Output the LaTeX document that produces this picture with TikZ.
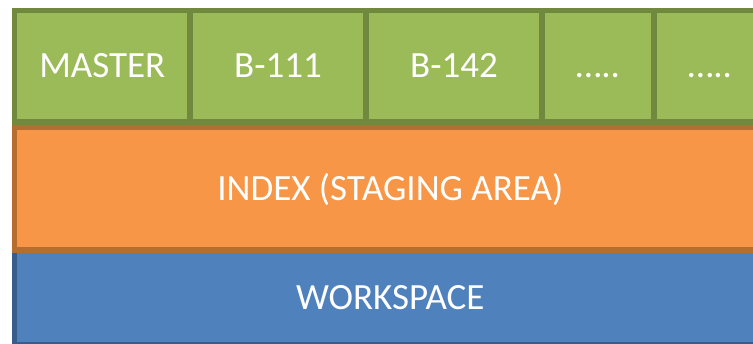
\documentclass[tikz,border=0pt]{standalone}
\usepackage{fontspec}
\setmainfont{Carlito}
\usepackage{tikz}
\usetikzlibrary{positioning}

\definecolor{branchfill}{HTML}{9BBB59}
\definecolor{branchline}{HTML}{71893F}
\definecolor{indexfill}{HTML}{F79646}
\definecolor{indexline}{HTML}{B66D31}
\definecolor{workfill}{HTML}{4F81BD}
\definecolor{workline}{HTML}{385D8A}

\begin{document}
\begin{tikzpicture}[
	x=1pt, y=1pt,
	layer/.style={draw, line width=5.5pt, outer sep=0pt, inner sep=0pt,
		text=white, font=\fontsize{37}{41}\selectfont,
		text height=23.4pt, text depth=0pt},
	branch/.style={layer, fill=branchfill, draw=branchline, minimum height=111.5pt},
	stage/.style={layer, fill=indexfill, draw=indexline, minimum width=751.5pt, minimum height=122.5pt},
	work/.style={layer, fill=workfill, draw=workline, minimum width=751.5pt, minimum height=95pt}]
	\useasboundingbox (0,0) rectangle (753,-344);
	% bottom up, so the orange border lies over the blue one
	\node[work, anchor=north west] (workspace) at (14.5,-250) {WORKSPACE};
	\node[stage, above right=0pt and 0pt of workspace.north west] (index) {INDEX (STAGING AREA)};
	\node[branch, minimum width=175.5pt, above right=5.5pt and 0pt of index.north west] (master) {MASTER};
	\node[branch, minimum width=176pt, right=0pt of master] (b111) {B-111};
	\node[branch, minimum width=176pt, right=0pt of b111] (b142) {B-142};
	\node[branch, minimum width=112pt, right=0pt of b142] (more1) {…..};
	\node[branch, minimum width=112pt, right=0pt of more1] (more2) {…..};
\end{tikzpicture}
\end{document}
